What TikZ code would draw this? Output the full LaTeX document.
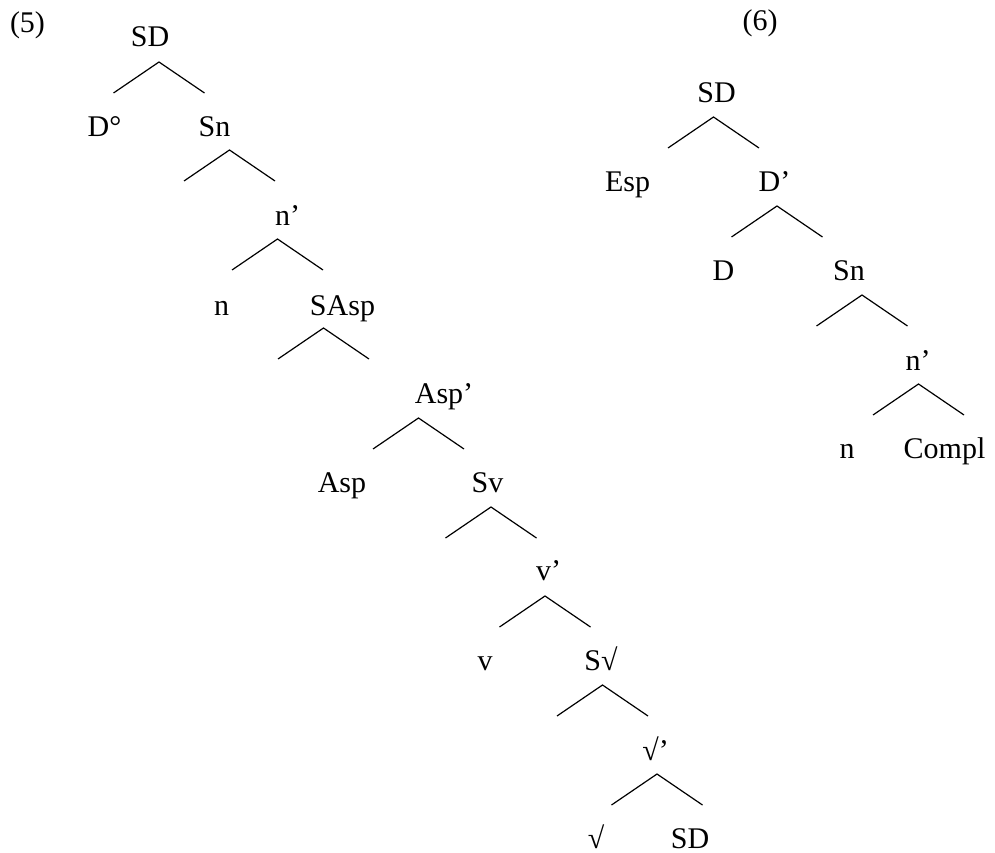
\documentclass[tikz,border=0pt]{standalone}
\usepackage{fontspec}
\setmainfont{Liberation Serif}
\tikzset{
  lbl/.style={anchor=base, inner sep=0pt, outer sep=0pt, font=\fontsize{30}{36}\selectfont},
  branch/.style={line width=1.2pt, black}
}
\newcommand{\mytri}[3]{%
  \coordinate (#1a) at (#2,#3);
  \coordinate (#1l) at (#2-45.5,#3+31);
  \coordinate (#1r) at (#2+45.5,#3+31);
  \draw[branch] (#1l) -- (#1a) -- (#1r);
}
\begin{document}
\begin{tikzpicture}[x=1pt,y=-1pt]
\useasboundingbox (0,0) rectangle (995,853);
% ---- (5) ----
\node[lbl] (ex5) at (27.5,33) {(5)};
\node[lbl] (a0) at (150,47) {SD};
\node[lbl] (a1) at (104.5,137) {D°};
\node[lbl] (a2) at (214.5,137) {Sn};
\node[lbl] (a3) at (287.5,225) {n’};
\node[lbl] (a4) at (221.5,315) {n};
\node[lbl] (a5) at (342.5,315) {SAsp};
\node[lbl] (a6) at (444,403) {Asp’};
\node[lbl] (a7) at (342,492) {Asp};
\node[lbl] (a8) at (487.5,492) {Sv};
\node[lbl] (a9) at (548.5,580) {v’};
\node[lbl] (a10) at (485,670) {v};
\node[lbl] (a11) at (601,670) {S√};
\node[lbl] (a12) at (655.5,760) {√’};
\node[lbl] (a13) at (596,848) {√};
\node[lbl] (a14) at (690,848) {SD};
\mytri{t1}{159}{62}
\mytri{t2}{229.5}{150}
\mytri{t3}{277.5}{239}
\mytri{t4}{323.5}{328}
\mytri{t5}{418.5}{418}
\mytri{t6}{491}{507}
\mytri{t7}{545}{596}
\mytri{t8}{602.5}{685}
\mytri{t9}{657}{774}
% ---- (6) ----
\node[lbl] (ex6) at (760,31) {(6)};
\node[lbl] (b0) at (716.5,103) {SD};
\node[lbl] (b1) at (627.5,192) {Esp};
\node[lbl] (b2) at (774.5,192) {D’};
\node[lbl] (b3) at (723.5,280) {D};
\node[lbl] (b4) at (849,280) {Sn};
\node[lbl] (b5) at (918,370) {n’};
\node[lbl] (b6) at (847,458) {n};
\node[lbl] (b7) at (944.5,458) {Compl};
\mytri{u1}{713.5}{117}
\mytri{u2}{777}{206}
\mytri{u3}{862}{295}
\mytri{u4}{918.5}{384}
\end{tikzpicture}
\end{document}
